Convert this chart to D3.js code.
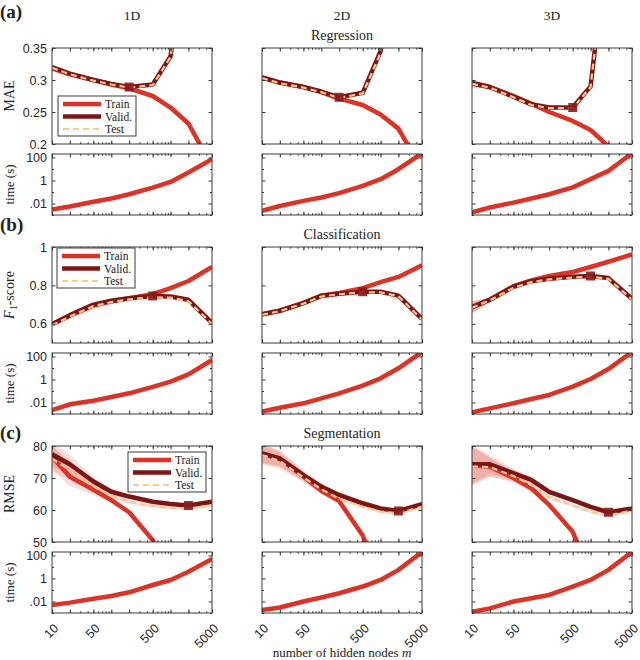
<!DOCTYPE html>
<meta charset="utf-8">
<style>
body { margin: 0; background: #fff; }
text { font-family: "Liberation Serif", "Times New Roman", serif; fill: #222; }
.tick text, .num { font-family: "Liberation Sans", Arial, sans-serif; font-size: 12.5px; fill: #262626; }
.frame { fill: none; stroke: #3a3a3a; stroke-width: 1; }
.tick line { stroke: #3a3a3a; }
</style>
<body>
<script src="https://cdn.jsdelivr.net/npm/d3@7"></script>
<script>

var nodes = [10, 20, 50, 100, 200, 500, 1000, 2000, 5000];
var dims = ["1D", "2D", "3D"];
var tasks = ["Regression", "Classification", "Segmentation"];
var panelTags = ["(a)", "(b)", "(c)"];
var xLabels = [10, 50, 500, 5000];

// regression MAE, one row per 1D / 2D / 3D
var regTrain = [[0.318, 0.309, 0.300, 0.293, 0.287, 0.275, 0.257, 0.232, 0.165],
                [0.304, 0.296, 0.289, 0.281, 0.271, 0.261, 0.246, 0.224, 0.160],
                [0.295, 0.289, 0.275, 0.263, 0.250, 0.236, 0.222, 0.196, 0.150]];
var regValid = [[0.320, 0.310, 0.300, 0.294, 0.289, 0.293, 0.337, 0.550, 0.900],
                [0.304, 0.296, 0.289, 0.282, 0.273, 0.280, 0.345, 0.600, 0.950],
                [0.295, 0.289, 0.274, 0.262, 0.257, 0.257, 0.290, 0.530, 0.950]];
var regTest  = [[0.319, 0.309, 0.299, 0.293, 0.288, 0.292, 0.336, 0.550, 0.900],
                [0.303, 0.295, 0.288, 0.281, 0.272, 0.279, 0.342, 0.600, 0.950],
                [0.294, 0.288, 0.273, 0.261, 0.256, 0.256, 0.289, 0.530, 0.950]];
var regSpread = [[0.003, 0.002, 0.001, 0.001, 0.001, 0.001, 0.002, 0.004, 0.004],
                 [0.004, 0.002, 0.001, 0.001, 0.001, 0.001, 0.004, 0.006, 0.006],
                 [0.006, 0.003, 0.002, 0.001, 0.001, 0.001, 0.003, 0.006, 0.006]];

// classification F1-score
var clsTrain = [[0.598, 0.642, 0.695, 0.716, 0.733, 0.754, 0.786, 0.823, 0.896],
                [0.649, 0.668, 0.709, 0.747, 0.761, 0.786, 0.817, 0.844, 0.905],
                [0.686, 0.726, 0.796, 0.826, 0.849, 0.870, 0.896, 0.923, 0.961]];
var clsValid = [[0.598, 0.645, 0.700, 0.720, 0.733, 0.745, 0.742, 0.725, 0.605],
                [0.649, 0.668, 0.708, 0.745, 0.757, 0.767, 0.767, 0.747, 0.625],
                [0.686, 0.725, 0.793, 0.822, 0.835, 0.845, 0.849, 0.838, 0.730]];
var clsTest  = [[0.592, 0.638, 0.692, 0.713, 0.727, 0.738, 0.736, 0.718, 0.600],
                [0.647, 0.666, 0.705, 0.742, 0.754, 0.764, 0.764, 0.744, 0.622],
                [0.684, 0.722, 0.788, 0.817, 0.831, 0.841, 0.845, 0.834, 0.727]];
var clsSpread = [[0.012, 0.006, 0.004, 0.003, 0.003, 0.003, 0.003, 0.004, 0.006],
                 [0.006, 0.004, 0.003, 0.003, 0.003, 0.003, 0.003, 0.004, 0.006],
                 [0.030, 0.012, 0.005, 0.004, 0.003, 0.003, 0.008, 0.005, 0.006]];

// segmentation RMSE
var segTrain = [[76.7, 70.4, 66.3, 63.1, 59.3, 50.6, 38.0, 25.0, 10.0],
                [77.7, 76.0, 70.5, 66.0, 62.8, 52.0, 38.0, 25.0, 10.0],
                [74.0, 73.5, 70.0, 66.8, 61.6, 53.2, 40.0, 25.0, 10.0]];
var segValid = [[77.4, 74.3, 68.9, 65.7, 64.2, 62.6, 61.9, 61.4, 62.6],
                [77.7, 76.1, 70.9, 67.3, 64.7, 62.1, 60.5, 59.7, 61.8],
                [74.3, 74.3, 71.5, 69.4, 65.7, 63.1, 61.0, 59.3, 60.5]];
var segTest  = [[76.0, 72.5, 67.4, 64.5, 62.5, 61.3, 60.6, 60.4, 61.5],
                [77.2, 75.3, 70.2, 66.5, 63.5, 61.0, 59.5, 59.0, 61.0],
                [73.6, 73.4, 70.6, 67.8, 64.0, 61.4, 59.5, 58.3, 59.8]];
var segSpread = [[4.0, 3.0, 1.5, 1.0, 0.6, 0.5, 0.5, 0.5, 0.5],
                 [3.0, 2.5, 1.5, 1.0, 0.6, 0.5, 0.5, 0.5, 0.5],
                 [6.0, 3.0, 1.5, 1.0, 0.6, 0.5, 0.5, 0.5, 0.5]];

// index of best validation model (square marker)
var regBest = [4, 4, 5];
var clsBest = [5, 5, 6];
var segBest = [7, 7, 7];

// training time in seconds
var timeReg = [[0.003, 0.0055, 0.014, 0.027, 0.064, 0.24, 0.75, 5, 70],
               [0.0023, 0.006, 0.017, 0.033, 0.08, 0.34, 1.3, 9.6, 235],
               [0.0017, 0.0045, 0.012, 0.027, 0.064, 0.25, 1.3, 6.8, 230]];
var timeCls = [[0.0022, 0.007, 0.014, 0.03, 0.063, 0.23, 0.65, 2.8, 49],
               [0.0016, 0.0035, 0.0085, 0.023, 0.063, 0.29, 1.26, 9.3, 250],
               [0.0014, 0.0031, 0.0085, 0.02, 0.045, 0.24, 1.1, 8, 250]];
var timeSeg = [[0.005, 0.008, 0.017, 0.03, 0.063, 0.27, 0.74, 3.9, 50],
               [0.0018, 0.003, 0.01, 0.022, 0.052, 0.2, 0.75, 5.6, 200],
               [0.0013, 0.0025, 0.01, 0.019, 0.037, 0.2, 0.75, 5.6, 200]];

var rows = [
  {train: regTrain, valid: regValid, test: regTest, spread: regSpread, best: regBest, time: timeReg,
   domain: [0.2, 0.35], ticks: [0.2, 0.25, 0.3, 0.35], ylab: "MAE", legend: [58, 96]},
  {train: clsTrain, valid: clsValid, test: clsTest, spread: clsSpread, best: clsBest, time: timeCls,
   domain: [0.5, 1], ticks: [0.6, 0.8, 1], ylab: "F1", legend: [57, 248]},
  {train: segTrain, valid: segValid, test: segTest, spread: segSpread, best: segBest, time: timeSeg,
   domain: [50, 80], ticks: [50, 60, 70, 80], ylab: "RMSE", legend: [128, 452]}
];

var colX = [52, 262, 472],
    rowY = [48, 247, 446],
    tagY = [18, 231, 439],
    pw = 160, ph = 96, th = 61, gap = 10;

var cTrain = "#dd3326", cValid = "#7e1515", cTest = "#fdc88e", cBand = "rgba(215,60,50,0.16)";

var svg = d3.select("body").append("svg")
    .attr("width", 640)
    .attr("height", 660);

var x = d3.scaleLog().domain([10, 5000]).range([0, pw]);
var minorX = [];
[10, 100, 1000].forEach(function(p) {
  for (var k = 1; k < 10; k++) if (p * k >= 10 && p * k <= 5000) minorX.push(p * k);
});

var yTime = d3.scaleLog().domain([0.001, 200]).range([th, 0]);

var clipId = 0;

function frame(g, h, y, majorY, minorY) {
  // inward ticks on all four sides
  g.append("g").call(d3.axisBottom(x).tickValues(minorX).tickSize(-1.8).tickFormat(""))
      .attr("transform", "translate(0," + h + ")");
  g.append("g").call(d3.axisBottom(x).tickValues(nodes).tickSize(-3.5).tickFormat(""))
      .attr("transform", "translate(0," + h + ")");
  g.append("g").call(d3.axisTop(x).tickValues(minorX).tickSize(-1.8).tickFormat(""));
  g.append("g").call(d3.axisTop(x).tickValues(nodes).tickSize(-3.5).tickFormat(""));
  if (minorY) {
    g.append("g").call(d3.axisLeft(y).tickValues(minorY).tickSize(-2).tickFormat(""));
    g.append("g").call(d3.axisRight(y).tickValues(minorY).tickSize(-2).tickFormat(""))
        .attr("transform", "translate(" + pw + ",0)");
  }
  g.append("g").call(d3.axisLeft(y).tickValues(majorY).tickSize(-3.5).tickFormat(""));
  g.append("g").call(d3.axisRight(y).tickValues(majorY).tickSize(-3.5).tickFormat(""))
      .attr("transform", "translate(" + pw + ",0)");
  g.selectAll(".domain").remove();
  g.append("rect").attr("class", "frame")
      .attr("width", pw).attr("height", h);
}

function clipped(g, h) {
  var id = "clip" + (clipId++);
  g.append("clipPath").attr("id", id)
    .append("rect").attr("width", pw).attr("height", h);
  return g.append("g").attr("clip-path", "url(#" + id + ")");
}

rows.forEach(function(r, ri) {
  var y = d3.scaleLinear().domain(r.domain).range([ph, 0]);

  dims.forEach(function(dim, ci) {
    var g = svg.append("g").attr("transform", "translate(" + colX[ci] + "," + rowY[ri] + ")");
    var plot = clipped(g, ph);

    var line = d3.line()
        .x(function(d, i) { return x(nodes[i]); })
        .y(function(d) { return y(d); });
    var band = function(vals) {
      return d3.area()
          .x(function(d, i) { return x(nodes[i]); })
          .y0(function(d, i) { return y(d - r.spread[ci][i]); })
          .y1(function(d, i) { return y(d + r.spread[ci][i]); })(vals);
    };

    [r.train[ci], r.valid[ci], r.test[ci]].forEach(function(vals) {
      plot.append("path").attr("d", band(vals)).attr("fill", cBand);
    });

    plot.append("path").attr("d", line(r.train[ci]))
        .attr("fill", "none").attr("stroke", cTrain).attr("stroke-width", 4.5)
        .attr("stroke-linejoin", "round");
    plot.append("path").attr("d", line(r.valid[ci]))
        .attr("fill", "none").attr("stroke", cValid).attr("stroke-width", 4.5)
        .attr("stroke-linejoin", "round");
    plot.append("path").attr("d", line(r.test[ci]))
        .attr("fill", "none").attr("stroke", cTest).attr("stroke-width", 2.2)
        .attr("stroke-dasharray", "6,4");

    var b = r.best[ci];
    plot.append("rect")
        .attr("x", x(nodes[b]) - 4.5).attr("y", y(r.valid[ci][b]) - 4.5)
        .attr("width", 9).attr("height", 9)
        .attr("fill", "#8a1b1b").attr("fill-opacity", 0.9);

    frame(g, ph, y, r.ticks, null);

    if (ci == 0) {
      r.ticks.forEach(function(t) {
        g.append("text").attr("class", "num")
            .attr("x", -5).attr("y", y(t)).attr("dy", "0.36em")
            .attr("text-anchor", "end").text(String(t));
      });
      var yl = g.append("text")
          .attr("transform", "translate(-38," + (ph / 2) + ") rotate(-90)")
          .attr("text-anchor", "middle").style("font-size", "14px");
      if (r.ylab == "F1") {
        yl.append("tspan").style("font-style", "italic").text("F");
        yl.append("tspan").attr("dy", 3).style("font-size", "10px").text("1");
        yl.append("tspan").attr("dy", -3).text("-score");
      } else {
        yl.text(r.ylab);
      }
    }

    // time subplot
    var tg = svg.append("g")
        .attr("transform", "translate(" + colX[ci] + "," + (rowY[ri] + ph + gap) + ")");
    var tplot = clipped(tg, th);
    tplot.append("path")
        .attr("d", d3.line()
            .x(function(d, i) { return x(nodes[i]); })
            .y(function(d) { return yTime(d); })(r.time[ci]))
        .attr("fill", "none").attr("stroke", cTrain).attr("stroke-width", 4.5)
        .attr("stroke-linejoin", "round");
    frame(tg, th, yTime, [0.01, 1, 100], [0.001, 0.1, 10]);

    if (ci == 0) {
      [[100, "100"], [1, "1"], [0.01, ".01"]].forEach(function(t) {
        tg.append("text").attr("class", "num")
            .attr("x", -5).attr("y", yTime(t[0])).attr("dy", "0.36em")
            .attr("text-anchor", "end").text(t[1]);
      });
      tg.append("text")
          .attr("transform", "translate(-38," + (th / 2) + ") rotate(-90)")
          .attr("text-anchor", "middle").style("font-size", "13px")
          .text("time (s)");
    }

    if (ri == 2) {
      xLabels.forEach(function(v) {
        tg.append("text").attr("class", "num")
            .attr("transform", "translate(" + (x(v) + 1) + "," + (th + 10) + ") rotate(-45)")
            .attr("text-anchor", "end").attr("dy", "0.7em")
            .text(v);
      });
    }
  });

  // legend in the 1D panel
  var lg = svg.append("g").attr("transform", "translate(" + r.legend[0] + "," + r.legend[1] + ")");
  lg.append("rect").attr("width", 78).attr("height", 40)
      .attr("fill", "#fff").attr("stroke", "#3a3a3a");
  var items = [["Train", cTrain, 4.5, null], ["Valid.", cValid, 4.5, null], ["Test", cTest, 2.2, "6,4"]];
  items.forEach(function(it, k) {
    var ly = 8 + k * 12.5;
    lg.append("line").attr("x1", 5).attr("x2", 43).attr("y1", ly).attr("y2", ly)
        .attr("stroke", it[1]).attr("stroke-width", it[2])
        .attr("stroke-dasharray", it[3]);
    lg.append("text").attr("x", 47).attr("y", ly).attr("dy", "0.35em")
        .style("font-size", "11.5px").text(it[0]);
  });

  // row title and panel letter
  svg.append("text").attr("x", colX[1] + pw / 2).attr("y", rowY[ri] - 8)
      .attr("text-anchor", "middle").style("font-size", "14px").text(tasks[ri]);
  svg.append("text").attr("x", 0).attr("y", tagY[ri])
      .style("font-size", "19px").style("font-weight", "bold").text(panelTags[ri]);
});

dims.forEach(function(dim, ci) {
  svg.append("text").attr("x", colX[ci] + pw / 2).attr("y", 20)
      .attr("text-anchor", "middle").style("font-size", "13.5px").text(dim);
});

var xl = svg.append("text").attr("x", colX[1] + pw / 2).attr("y", 657)
    .attr("text-anchor", "middle").style("font-size", "13px");
xl.append("tspan").text("number of hidden nodes ");
xl.append("tspan").style("font-style", "italic").text("m");

</script>
